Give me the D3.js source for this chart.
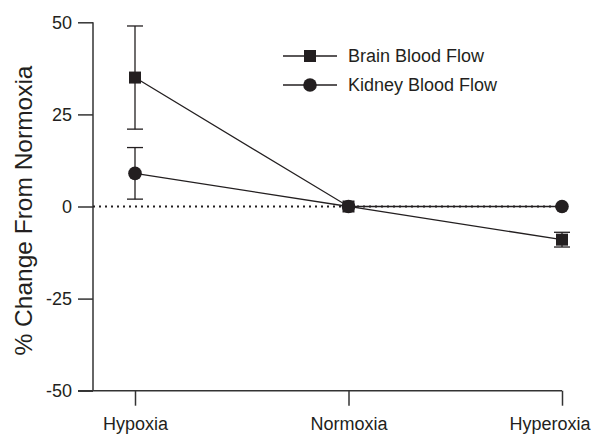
<!DOCTYPE html>
<html><head><meta charset="utf-8">
<script src="https://cdn.jsdelivr.net/npm/d3@7"></script>
<style>body{margin:0;background:#fff}svg{display:block}text{font-family:"Liberation Sans",Arial,sans-serif;fill:#231f20}</style>
</head><body>
<svg id="c" width="595" height="435"></svg>
<script>
const categories = ["Hypoxia","Normoxia","Hyperoxia"];
const brainMean = [35, 0, -9];
const brainLow  = [21, 0, -11];
const brainHigh = [49, 0, -7];
const kidneyMean = [9, 0, 0];
const kidneyLow  = [2, 0, 0];
const kidneyHigh = [16, 0, 0];
const yTicks = [-50, -25, 0, 25, 50];
const seriesNames = ["Brain Blood Flow", "Kidney Blood Flow"];

const svg = d3.select("#c");
const ink = "#231f20";
const axisCol = "#333";
const x = d3.scalePoint().domain(categories).range([135, 562]);
const y = d3.scaleLinear().domain([-50, 50]).range([390.7, 22.3]);
const axX = 93;
const fs = 18;

// y axis
const yAxis = d3.axisLeft(y).tickValues(yTicks).tickSize(15).tickPadding(6).tickFormat(d => String(d));
const gy = svg.append("g").attr("transform", `translate(${axX},0)`).call(yAxis);
gy.select(".domain").attr("d", `M0,${y(50)}V${y(-50)}`).attr("stroke", axisCol).attr("stroke-width", 1.5);
gy.selectAll(".tick line").attr("stroke", axisCol).attr("stroke-width", 1.5);
gy.selectAll(".tick text").attr("font-size", fs).attr("font-family", "Liberation Sans, Arial, sans-serif").attr("fill", ink);

// x axis
const xAxis = d3.axisBottom(x).tickSize(15).tickPadding(12);
const gx = svg.append("g").attr("transform", `translate(0,${y(-50)})`).call(xAxis);
gx.select(".domain").attr("d", `M${axX-15},0H${x("Hyperoxia")}`).attr("stroke", axisCol).attr("stroke-width", 1.5);
gx.selectAll(".tick line").attr("stroke", axisCol).attr("stroke-width", 1.5);
gx.selectAll(".tick text").attr("font-size", fs).attr("font-family", "Liberation Sans, Arial, sans-serif").attr("fill", ink);
gx.selectAll(".tick text").filter(d => d === "Hyperoxia").attr("text-anchor", "end").attr("x", 28);

// zero dotted line
svg.append("line").attr("x1", axX).attr("x2", x("Hyperoxia")).attr("y1", y(0)).attr("y2", y(0))
  .attr("stroke", ink).attr("stroke-width", 2).attr("stroke-dasharray", "2,4");

// y title
svg.append("text").attr("transform", `translate(32,${(y(50)+y(-50))/2+4}) rotate(-90)`)
  .attr("text-anchor", "middle").attr("font-size", 24.5).text("% Change From Normoxia");

const line = d3.line().x((d,i) => x(categories[i])).y(d => y(d));
function drawSeries(mean, low, high, shape) {
  svg.append("path").attr("d", line(mean)).attr("fill", "none").attr("stroke", ink).attr("stroke-width", 1.3);
  categories.forEach((c, i) => {
    if (high[i] !== low[i]) {
      const cx = x(c);
      svg.append("line").attr("x1", cx).attr("x2", cx).attr("y1", y(high[i])).attr("y2", y(low[i])).attr("stroke", ink).attr("stroke-width", 1.3);
      [high[i], low[i]].forEach(v => svg.append("line").attr("x1", cx-8).attr("x2", cx+8).attr("y1", y(v)).attr("y2", y(v)).attr("stroke", ink).attr("stroke-width", 1.3));
    }
  });
  categories.forEach((c, i) => drawMarker(x(c), y(mean[i]), shape));
}
function drawMarker(cx, cy, shape) {
  if (shape === "square") svg.append("rect").attr("x", cx-6).attr("y", cy-6).attr("width", 12).attr("height", 12).attr("fill", ink);
  else svg.append("circle").attr("cx", cx).attr("cy", cy).attr("r", 6.8).attr("fill", ink);
}
drawSeries(kidneyMean, kidneyLow, kidneyHigh, "circle");
drawSeries(brainMean, brainLow, brainHigh, "square");

// legend
const legY = [56, 85];
const shapes = ["square", "circle"];
seriesNames.forEach((n, i) => {
  svg.append("line").attr("x1", 283).attr("x2", 337).attr("y1", legY[i]).attr("y2", legY[i]).attr("stroke", ink).attr("stroke-width", 1.3);
  drawMarker(310, legY[i], shapes[i]);
  svg.append("text").attr("x", 348).attr("y", legY[i]).attr("dy", "0.35em").attr("font-size", fs).text(n);
});
</script>
</body></html>
